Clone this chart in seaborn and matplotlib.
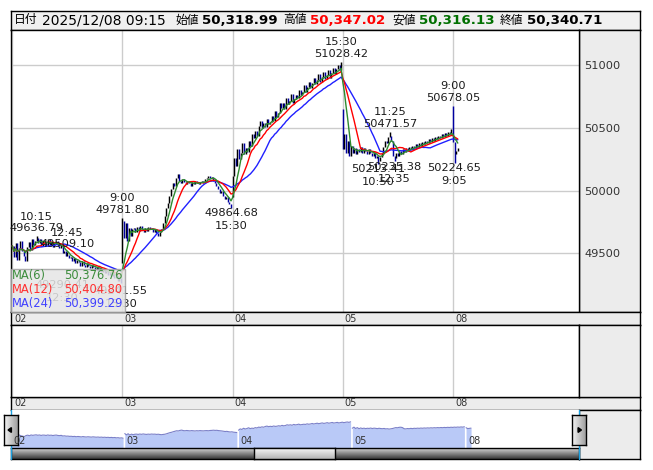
import matplotlib
matplotlib.use("Agg")
import matplotlib.pyplot as plt
from matplotlib.patches import Rectangle, Polygon
from matplotlib.lines import Line2D
from matplotlib.colors import LinearSegmentedColormap
import numpy as np
import pandas as pd
import seaborn as sns

# ---- data (5 minute bars, 68 per session) ----
day_labels = ["02", "03", "04", "05", "08"]
day_open = [49540, 49420, 49950, 50650, 50450]

day02 = [49560, 49470, 49580, 49450, 49540, 49600, 49520,
         49480, 49440, 49550, 49590, 49530, 49610, 49570, 49600,
         49625,
         49580, 49610, 49560, 49600, 49590, 49560, 49610, 49570, 49590, 49550,
         49580, 49600, 49560, 49540, 49570,
         49500, 49520, 49480, 49490, 49460, 49470, 49440, 49460, 49420, 49450,
         49430, 49400, 49440, 49410, 49390, 49420, 49400, 49380, 49410, 49390,
         49370, 49390, 49360, 49380, 49350, 49370, 49340, 49360, 49330, 49350,
         49320, 49340, 49300, 49320, 49280, 49300, 49265]
day03 = [49760, 49620, 49740, 49600, 49700, 49640, 49690,
         49700, 49670, 49710, 49680, 49720, 49690, 49670, 49700, 49680, 49710,
         49690, 49700, 49670, 49690, 49660, 49640, 49670, 49690,
         49740, 49800, 49860, 49900, 49960, 50010, 50060, 50040, 50100, 50130,
         50080, 50060, 50090, 50070, 50050, 50080, 50060, 50040, 50070, 50050,
         50080, 50060, 50050, 50070, 50080, 50060, 50090, 50100,
         50120, 50100, 50110, 50080, 50060,
         50040, 50010, 49980, 50000, 49960, 49930, 49950, 49910, 49890, 49870]
day04 = [50120, 50260, 50200, 50330, 50250, 50300, 50380, 50290, 50340, 50310,
         50400, 50360, 50450, 50420, 50480, 50440, 50520, 50560, 50500, 50540,
         50510, 50570, 50530, 50550, 50600, 50560, 50640, 50590, 50620, 50700,
         50660, 50700, 50650, 50740, 50690, 50720, 50770, 50700, 50730, 50760,
         50740, 50800, 50760, 50790, 50840, 50790, 50830, 50870, 50820, 50860,
         50900, 50850, 50880, 50930, 50870, 50910, 50950, 50890, 50920, 50960,
         50900, 50940, 50980, 50930, 50970, 51000, 50960, 51020]
day05 = [50330, 50450, 50300, 50400, 50280, 50360, 50300, 50340, 50290, 50330,
         50310, 50350, 50300, 50340, 50320, 50290, 50330, 50300, 50280, 50310,
         50260, 50280, 50240, 50270, 50300, 50350, 50400, 50380, 50430, 50440,
         50400, 50280, 50260, 50300, 50280, 50320, 50290, 50330, 50310, 50340,
         50320, 50350, 50330, 50360, 50340, 50370, 50350, 50380, 50360, 50390,
         50370, 50400, 50380, 50410, 50390, 50420, 50400, 50430, 50410, 50440,
         50420, 50450, 50430, 50460, 50440, 50470, 50450, 50490]
day08 = [50390, 50290, 50318.99, 50340.71]

# labelled highs / lows: (day, time, price, kind)
pivots = [(0, "10:15", 49636.79, "H"), (0, "12:45", 49509.10, "H"),
          (1, "9:00", 49781.80, "H"), (1, "15:30", 49864.68, "L"),
          (2, "15:30", 51028.42, "H"),
          (3, "10:50", 50213.41, "L"), (3, "11:25", 50471.57, "H"),
          (3, "12:35", 50235.38, "L"),
          (4, "9:00", 50678.05, "H"), (4, "9:05", 50224.65, "L")]
# labels that sit behind the MA legend box
hidden_pivots = [(0, "12:30", 49290.41, "L"), (0, "15:30", 49241.55, "L")]

y_ticks = [49500, 50000, 50500, 51000]
y_tick_labels = ["49500", "50000", "50500", "51000"]

ma_periods = [6, 12, 24]
ma_colors = ["#2e8b2e", "#ff0000", "#2020ff"]
ma_text_colors = ["#3c8c3c", "#ff3030", "#4040ff"]
ma_last = ["50,376.76", "50,404.80", "50,399.29"]

header = [("日付", 14, "black", "normal", 8.5),
          ("2025/12/08 09:15", 42, "black", "normal", 10),
          ("始値", 176, "black", "normal", 8.5),
          ("50,318.99", 202, "black", "bold", 9.6),
          ("高値", 283, "black", "normal", 8.5),
          ("50,347.02", 310, "#ff0000", "bold", 9.6),
          ("安値", 392, "black", "normal", 8.5),
          ("50,316.13", 419, "#007000", "bold", 9.6),
          ("終値", 500, "black", "normal", 8.5),
          ("50,340.71", 527, "black", "bold", 9.6)]

PER_DAY = 68

sns.set_style("white")
plt.rcParams["font.family"] = ["DejaVu Sans", "Noto Sans CJK JP"]

W, H = 653, 470
fig = plt.figure(figsize=(W / 100, H / 100), dpi=100)


def add_box(x0, y0, x1, y1, fc="white", z=0):
    a = fig.add_axes([x0 / W, 1 - y1 / H, (x1 - x0) / W, (y1 - y0) / H], facecolor=fc, zorder=z)
    a.set_xticks([])
    a.set_yticks([])
    for s in a.spines.values():
        s.set_color("black")
        s.set_linewidth(1)
    return a


def bar_of(t):
    h, m = map(int, t.split(":"))
    mins = h * 60 + m
    return (mins - 540) // 5 if mins <= 690 else 31 + (mins - 750) // 5


# ---- build bar table ----
days = [day02, day03, day04, day05, day08]
rows = []
for d, vals in enumerate(days):
    prev = day_open[d]
    for i, c in enumerate(vals):
        rows.append({"x": d * PER_DAY + i, "open": prev, "close": c})
        prev = c
df = pd.DataFrame(rows)
df["hi"] = df[["open", "close"]].max(axis=1)
df["lo"] = df[["open", "close"]].min(axis=1)
for d, t, p, k in pivots:
    g = df.index[df["x"] == d * PER_DAY + bar_of(t)][0]
    if k == "H":
        df.loc[g, "hi"] = max(df.loc[g, "hi"], p)
    else:
        df.loc[g, "lo"] = min(df.loc[g, "lo"], p)
for n in ma_periods:
    df[f"ma{n}"] = df["close"].rolling(n, min_periods=1).mean()

# ---- header ----
hd = add_box(10.5, 10.5, 640, 30, fc="#f0f0f0")
for txt, xp, col, wt, fs in header:
    fig.text(xp / W, 1 - 20 / H, txt, color=col, fontweight=wt, fontsize=fs, va="center", ha="left")

# ---- main price panel ----
add_box(579, 30, 640, 312, fc="#ececec")
ax = add_box(10.5, 30, 579, 312)
px_per_bar = 1.62
ax.set_xlim((10.5 - 12.3) / px_per_bar, (579 - 12.3) / px_per_bar)
ax.set_ylim(49031, 51283)
ax.set_xticks([d * PER_DAY for d in range(5)])
ax.set_yticks(y_ticks)
ax.set_yticklabels(y_tick_labels)
ax.yaxis.tick_right()
ax.tick_params(axis="y", length=0, pad=4, labelsize=8.2, labelcolor="#333333")
ax.tick_params(axis="x", length=0, labelbottom=False)
ax.grid(True, color="#cccccc", lw=1)
ax.set_axisbelow(True)

cols = np.where(df["close"] >= df["open"], "black", "#0000a0")
ax.vlines(df["x"], df["lo"], df["hi"], colors=cols, lw=1.05, zorder=2)
for n, c in zip(ma_periods[::-1], ma_colors[::-1]):
    sns.lineplot(data=df, x="x", y=f"ma{n}", ax=ax, color=c, lw=1, zorder=3)
ax.set_xlabel("")
ax.set_ylabel("")

for d, t, p, k in pivots + hidden_pivots:
    xb = d * PER_DAY + bar_of(t)
    if k == "H":
        offs = [(8, f"{p:.2f}"), (19.5, t)]
    else:
        offs = [(-5.5, f"{p:.2f}"), (-18, t)]
    for dy, s in offs:
        ax.annotate(s, (xb, p), xytext=(0, dy), textcoords="offset pixels",
                    ha="center", va="center", fontsize=8.2, color="#1c1c1c", zorder=4,
                    annotation_clip=False)

# MA legend box (semi transparent)
fig.add_artist(Rectangle((10.5 / W, 1 - 312 / H), 114.5 / W, 43.5 / H, transform=fig.transFigure,
                         facecolor="#e6e6e6", alpha=0.85, edgecolor="#a0a0a0", lw=1, zorder=5))
for j, (n, c, v) in enumerate(zip(ma_periods, ma_text_colors, ma_last)):
    yy = 1 - (275.5 + j * 14) / H
    fig.text(12 / W, yy, f"MA({n})", color=c, fontsize=8.3, va="center", zorder=6)
    fig.text(64 / W, yy, v, color=c, fontsize=8.3, va="center", zorder=6)

day_px = [12.3 + d * PER_DAY * px_per_bar for d in range(5)]

# ---- date strips and lower panel ----
for y0, y1 in [(312, 325), (397, 410)]:
    add_box(10.5, y0, 640, y1, fc="#ececec")
    for xp, lab in zip(day_px, day_labels):
        fig.text((xp + 2) / W, 1 - (y0 + y1) / 2 / H, lab, fontsize=7, color="#333333", va="center")

sub = add_box(10.5, 325, 579, 397)
sub.set_xlim(ax.get_xlim())
for xp in [d * PER_DAY for d in range(5)]:
    sub.axvline(xp, color="#cccccc", lw=1)
add_box(579, 325, 640, 397, fc="#ececec")

# ---- navigator ----
add_box(579, 410, 640, 459, fc="#ececec")
nav = add_box(10.5, 410, 579, 448)
nav_px = 1.673
nav.set_xlim((10.5 - 11) / nav_px, (579 - 11) / nav_px)
nav.set_ylim(48214, 52286)
for d in range(5):
    part = df[(df["x"] >= d * PER_DAY) & (df["x"] < (d + 1) * PER_DAY)]
    nav.fill_between(part["x"], part["close"], 48214, color="#b9c9f7", lw=0)
    nav.plot(part["x"], part["close"], color="#7b80c8", lw=0.8)
    fig.text((11 + d * PER_DAY * nav_px + 2) / W, 1 - 441 / H, day_labels[d], fontsize=7,
             color="#333333", va="center")
for s in nav.spines.values():
    s.set_visible(False)

# scrollbar
sb = add_box(10.5, 448, 579, 459)
grad = np.linspace(0, 1, 30).reshape(-1, 1)
sb.imshow(grad, aspect="auto", cmap=LinearSegmentedColormap.from_list("g", ["#d4d4d4", "#383838"]),
          extent=(0, 1, 0, 1))
th = add_box(254, 448, 335, 459, z=1)
th.imshow(grad, aspect="auto", cmap=LinearSegmentedColormap.from_list("t", ["#f8f8f8", "#b4b4b4"]),
          extent=(0, 1, 0, 1))

# cyan edge lines of the navigator
for xp in [10.5, 579]:
    fig.add_artist(Line2D([xp / W, xp / W], [1 - 410 / H, 1 - 459 / H], color="#1ca0e0", lw=1,
                          transform=fig.transFigure, zorder=1))

# scroll buttons
hgrad = np.linspace(0, 1, 20).reshape(1, -1)
for x0, tri in [(4, [(0.3, 0.5), (0.55, 0.42), (0.55, 0.58)]), (572, [(0.7, 0.5), (0.45, 0.42), (0.45, 0.58)])]:
    b = add_box(x0, 415, x0 + 13.5, 445, z=2)
    b.imshow(hgrad, aspect="auto", cmap=LinearSegmentedColormap.from_list("b", ["#f4f4f4", "#a0a0a0"]),
             extent=(0, 1, 0, 1))
    b.add_patch(Polygon(tri, closed=True, color="black"))
    b.set_xlim(0, 1)
    b.set_ylim(0, 1)

fig.savefig("out.png", dpi=100)
